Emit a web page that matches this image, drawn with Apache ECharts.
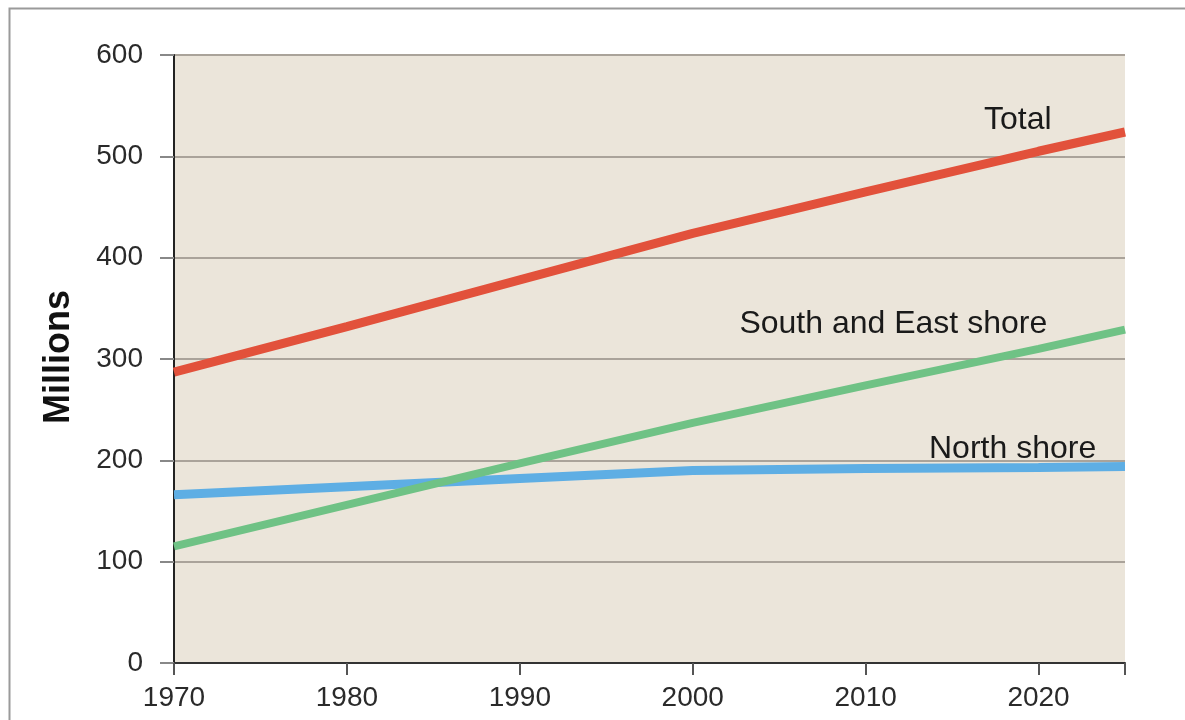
<!DOCTYPE html>
<html>
<head>
<meta charset="utf-8">
<script src="https://cdn.jsdelivr.net/npm/echarts@6/dist/echarts.min.js"></script>
<style>
html,body{margin:0;padding:0;background:#fff;}
#chart{width:1185px;height:720px;}
</style>
</head>
<body>
<div id="chart"></div>
<script>
const years = [1970, 1980, 1990, 2000, 2010, 2020, 2025];
const total = [287, 332, 378, 424, 465, 505, 524];
const southEast = [115, 156, 197, 237, 274, 310, 329];
const north = [166, 174, 182, 190, 192, 193, 194];
const xTickLabels = [1970, 1980, 1990, 2000, 2010, 2020];
const xTicks = [1970, 1980, 1990, 2000, 2010, 2020, 2025];
const seriesNames = ['Total', 'South and East shore', 'North shore'];
const yTitle = 'Millions';

const font = 'Liberation Sans, Arial, Helvetica, sans-serif';
const chart = echarts.init(document.getElementById('chart'));

function pairs(vals){ return years.map((y,i)=>[y, vals[i]]); }
function lbl(text, coord){
  return {
    silent: true,
    symbol: 'circle',
    symbolSize: 1,
    itemStyle: {color: 'rgba(0,0,0,0)'},
    data: [{coord: coord, value: 0}],
    label: {show: true, position: 'inside', formatter: text, color: '#1a1a1a', fontSize: 32, fontFamily: font}
  };
}

chart.setOption({
  animation: false,
  grid: {left: 174, right: 60, top: 55, bottom: 57, show: true, backgroundColor: '#ebe5da', borderWidth: 0},
  xAxis: {
    type: 'value', min: 1970, max: 2025,
    axisLine: {show: true, onZero: false, lineStyle: {color: '#333', width: 2}},
    axisTick: {show: true, length: 12, lineStyle: {color: '#555', width: 2}, customValues: xTicks},
    axisLabel: {color: '#2a2a2a', fontSize: 28, fontFamily: font, margin: 21, customValues: xTickLabels, formatter: v => String(v)},
    splitLine: {show: false}
  },
  yAxis: {
    type: 'value', min: 0, max: 600, interval: 100,
    axisLine: {show: true, lineStyle: {color: '#222', width: 2}},
    axisTick: {show: true, length: 14, lineStyle: {color: '#888', width: 2}},
    axisLabel: {color: '#2a2a2a', fontSize: 28, fontFamily: font, margin: 31},
    splitLine: {show: true, lineStyle: {color: '#aaa39a', width: 2}}
  },
  graphic: [
    {type: 'rect', left: 7, top: 6, shape: {width: 1300, height: 900}, style: {fill: 'none', stroke: '#9a9a9a', lineWidth: 2}, z: -10},
    {type: 'text', x: 59, y: 357, rotation: Math.PI/2, style: {text: yTitle, fill: '#111', font: 'bold 36px ' + font, align: 'center', verticalAlign: 'middle'}}
  ],
  series: [
    {name: seriesNames[2], type: 'line', data: pairs(north), symbol: 'none', lineStyle: {color: '#5eaee4', width: 9}, z: 3,
      markPoint: lbl(seriesNames[2], [2018.5, 211])},
    {name: seriesNames[1], type: 'line', data: pairs(southEast), symbol: 'none', lineStyle: {color: '#6fc285', width: 8}, z: 4,
      markPoint: lbl(seriesNames[1], [2011.6, 334])},
    {name: seriesNames[0], type: 'line', data: pairs(total), symbol: 'none', lineStyle: {color: '#e2513b', width: 9}, z: 5,
      markPoint: lbl(seriesNames[0], [2018.8, 536])}
  ]
});
</script>
</body>
</html>
